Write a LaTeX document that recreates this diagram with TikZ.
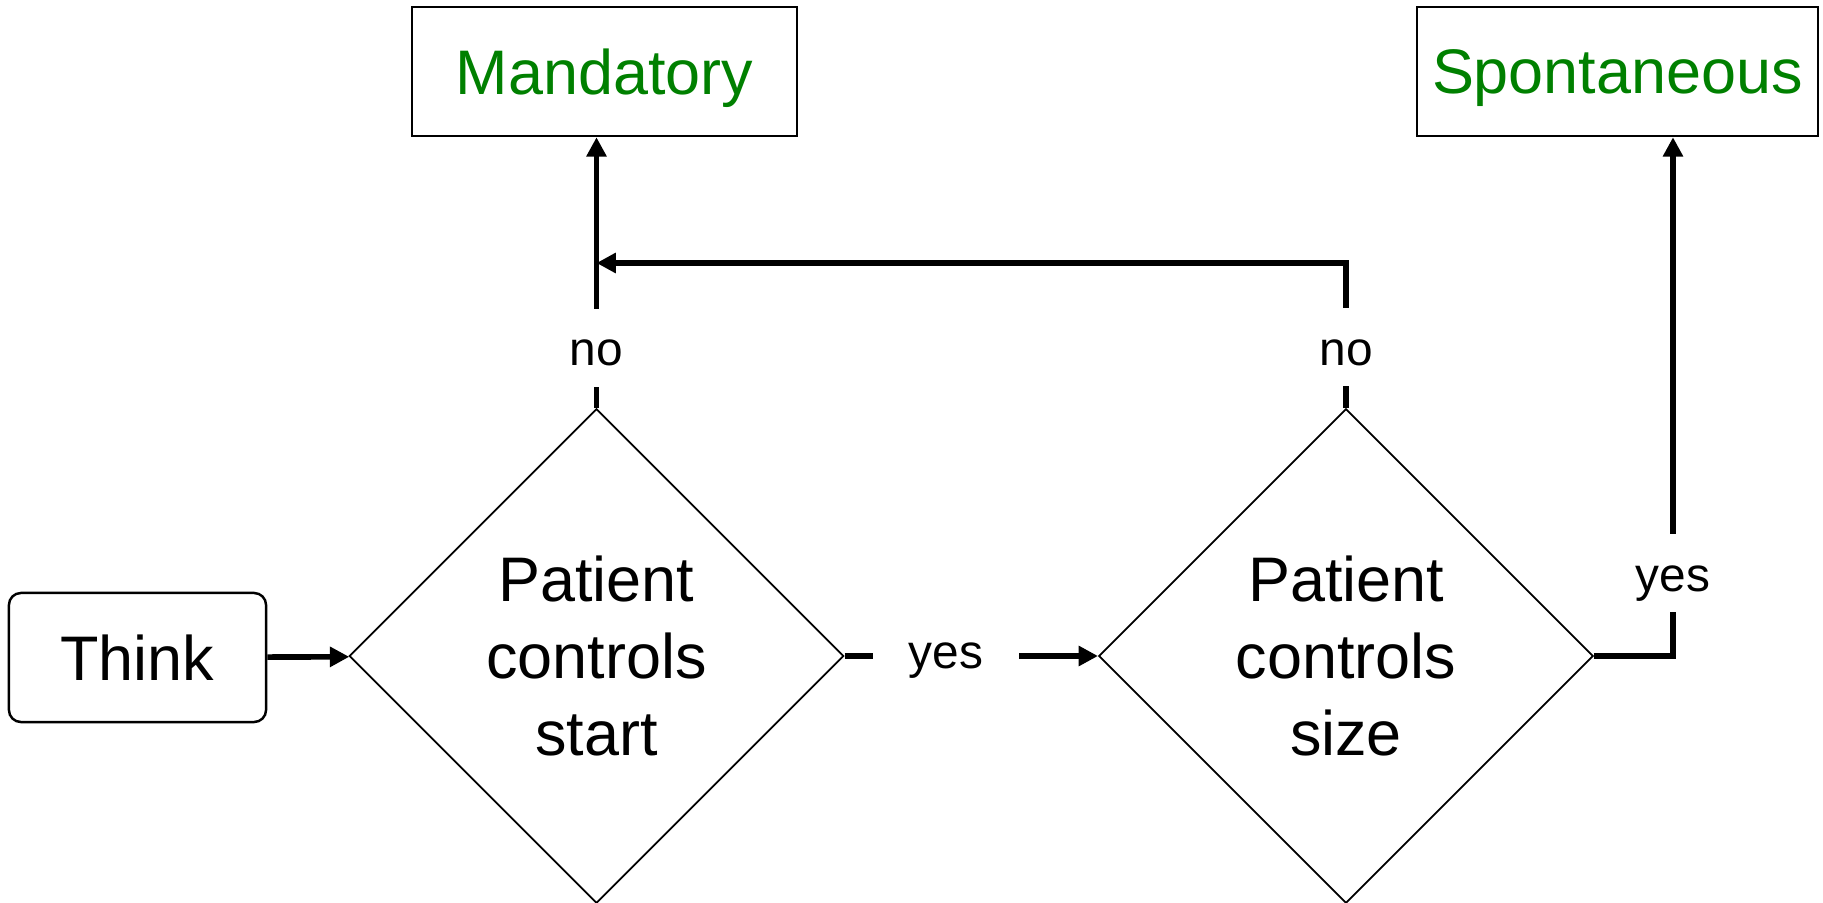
\documentclass[tikz,border=0pt]{standalone}
\usepackage{fontspec}
\setmainfont{Liberation Sans}
\usepackage{tikz}
\usetikzlibrary{arrows.meta,shapes.geometric,positioning}
\definecolor{outgreen}{RGB}{0, 128, 0}

\begin{document}
\begin{tikzpicture}[x=0.01cm, y=-0.01cm,
    bigtext/.style={font=\fontsize{17.9}{21.9}\selectfont},
    box/.style={draw, line width=0.7pt, bigtext, inner sep=0pt, text depth=0pt, minimum height=1.29cm},
    decision/.style={draw, diamond, line width=0.5pt, bigtext, align=center, inner sep=0pt, minimum width=4.94cm, minimum height=4.94cm},
    conn/.style={line width=1.6pt, -{Triangle[length=5.5pt,width=5.5pt]}},
    lbl/.style={fill=white, font=\fontsize{13.6}{16}\selectfont, inner sep=0pt, text height=7pt, text depth=0pt, minimum width=0.78cm, minimum height=0.78cm},
    vlbl/.style={lbl, text height=10.4pt}]
    \useasboundingbox (0,0) rectangle (1823,903);

    % Boxes
    \node[box, rounded corners=0.12cm, minimum width=2.57cm] (think) at (137.5,657.5) {Think};
    \node[box, minimum width=3.85cm, text=outgreen] (mand) at (604.5,71.5) {Mandatory};
    \node[box, minimum width=4.01cm, text=outgreen] (spont) at (1617.5,71.5) {Spontaneous};

    % Decisions
    \node[decision] (ctrlstart) at (596.5,656) {Patient\\controls\\start};
    \node[decision] (ctrlsize) at (1346,656) {Patient\\controls\\size};

    \coordinate (join) at (ctrlstart.north |- 0,263);
    \coordinate (turn) at (1673,656);

    % Connectors
    \draw[conn] (think) -- (ctrlstart);
    \draw[conn] (ctrlstart.east) -- node[lbl, pos=0.4, minimum width=1.46cm] (yesstart) {yes} (ctrlsize.west);
    \draw[conn] (ctrlstart.north) -- node[vlbl, pos=0.223] (nostart) {no} (ctrlstart.north |- mand.south);
    \draw[conn] (ctrlsize.north) -- node[vlbl, pos=0.42] (nosize) {no} (ctrlsize.north |- join) -- (join);
    \draw[conn] (ctrlsize.east) -- (turn) -- node[vlbl, pos=0.16] (yessize) {yes} (turn |- spont.south);
\end{tikzpicture}
\end{document}
